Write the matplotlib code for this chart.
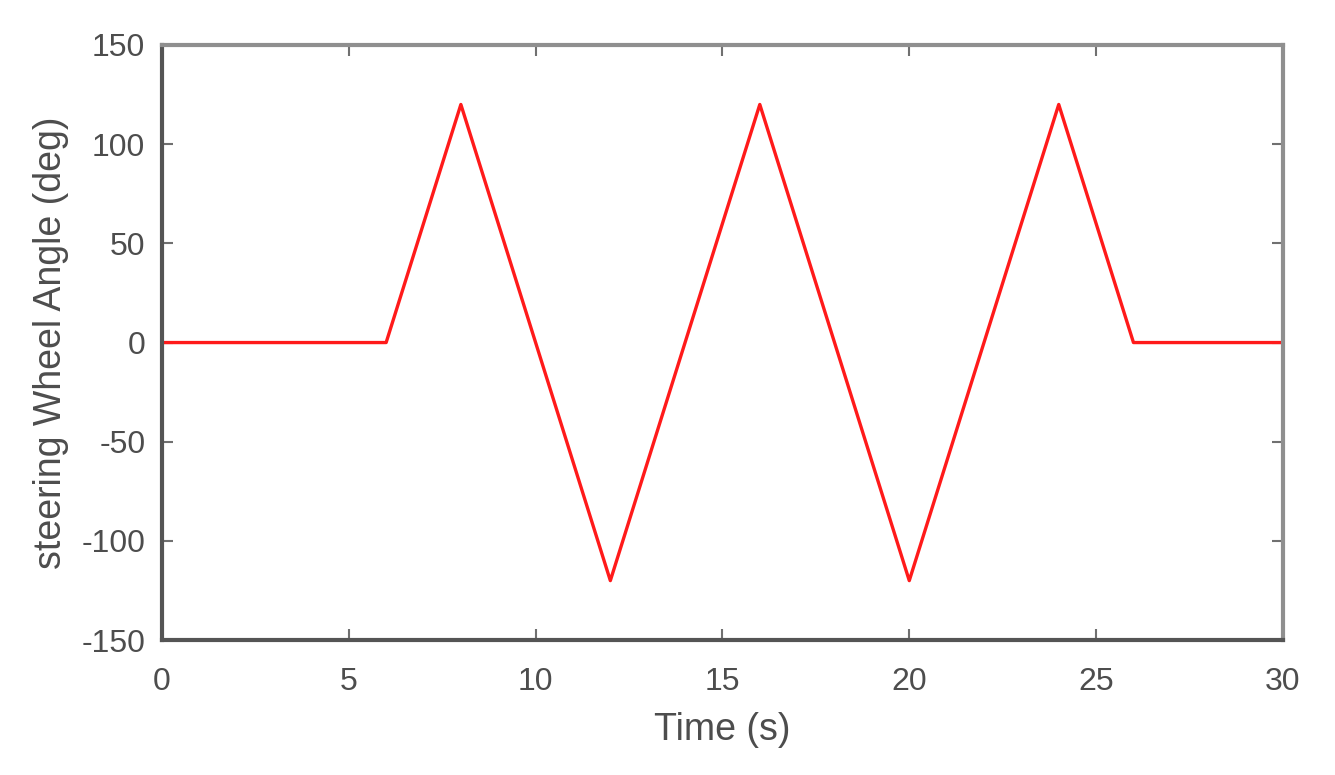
import matplotlib
matplotlib.use("Agg")
import matplotlib.pyplot as plt

# steering input
time_s = [0, 6, 8, 12, 16, 20, 24, 26, 30]
angle_deg = [0, 0, 120, -120, 120, -120, 120, 0, 0]

xticks = [0, 5, 10, 15, 20, 25, 30]
yticks = [-150, -100, -50, 0, 50, 100, 150]

plt.rcParams['font.family'] = ['Liberation Sans', 'DejaVu Sans']
plt.rcParams['axes.unicode_minus'] = False

fig = plt.figure(figsize=(13.35, 7.75), dpi=100)
ax = fig.add_axes([0.1213, 0.174, 0.8397, 0.768])

ax.plot(time_s, angle_deg, color='#ff1a1a', lw=2.4)

ax.set_xlim(0, 30)
ax.set_ylim(-150, 150)
ax.set_xticks(xticks)
ax.set_yticks(yticks)

txt = '#4d4d4d'
ax.tick_params(direction='in', length=8, width=1.5, color='#707070',
               top=True, right=True, labelsize=23, labelcolor=txt)
ax.tick_params(axis='x', pad=19)
ax.tick_params(axis='y', pad=12)

for side in ['left', 'bottom']:
    ax.spines[side].set_color('#555555')
    ax.spines[side].set_linewidth(3)
for side in ['top', 'right']:
    ax.spines[side].set_color('#8f8f8f')
    ax.spines[side].set_linewidth(3)

ax.set_xlabel('Time (s)', fontsize=27, color=txt, labelpad=11)
ax.set_ylabel('steering Wheel Angle (deg)', fontsize=27, color=txt, labelpad=9)

fig.savefig('out.png', dpi=100)
